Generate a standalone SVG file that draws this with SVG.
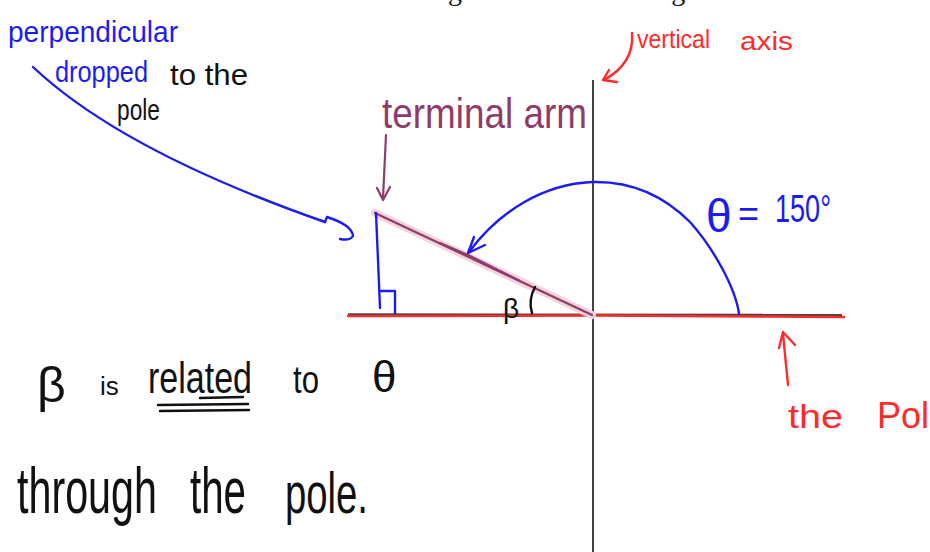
<svg xmlns="http://www.w3.org/2000/svg" width="930" height="552" viewBox="0 0 930 552">
<style>
.hand{font-family:"Liberation Sans","DejaVu Sans",sans-serif;}
.blue{fill:#1c1cf2;}
.red{fill:#ff2a2a;}
.purple{fill:#8e3d6a;}
.black{fill:#111;}
.sb{stroke:#1c1cf2;stroke-width:2.4;fill:none;stroke-linecap:round;stroke-linejoin:round;}
.sr{stroke:#ff2a2a;stroke-width:2.4;fill:none;stroke-linecap:round;stroke-linejoin:round;}
.sp{stroke:#8e3d6a;stroke-width:2.2;fill:none;stroke-linecap:round;stroke-linejoin:round;}
.sk{stroke:#111;stroke-width:2.4;fill:none;stroke-linecap:round;stroke-linejoin:round;}
</style>
<rect width="930" height="552" fill="#fff"/>
<g id="header">
<text x="204" y="-0.5" font-family="Liberation Serif,serif" font-size="28" fill="#111" textLength="258" lengthAdjust="spacingAndGlyphs">Consider the following</text>
<text x="637" y="-0.5" font-family="Liberation Serif,serif" font-size="28" fill="#111">diagram</text>
</g>
<g id="axes">
<line x1="593" y1="80" x2="593" y2="552" stroke="#444" stroke-width="2"/>
<line x1="348" y1="314.5" x2="842" y2="315" stroke="#444" stroke-width="2.4"/>
<path d="M347,316 L600,315.5 L760,316.5 L845,317" stroke="#ff2a2a" stroke-width="2.4" fill="none"/>
</g>
<g id="terminal-arm">
<line x1="375" y1="213" x2="592" y2="315" stroke="#f3d2dc" stroke-width="8" stroke-linecap="round"/>
<path class="sp" d="M375,213 L592,315"/>
<path class="sp" d="M440,243 L470,256 L520,281" stroke-width="1.4"/>
</g>
<g id="perpendicular">
<path class="sb" d="M376,213 L378,260 L380,308"/>
<path class="sb" d="M381,291 L395,291 L395,313"/>
</g>
<g id="beta-angle">
<text class="hand black" x="503" y="318" font-size="28">β</text>
<path class="sk" d="M535,287 Q528,300 532,313" stroke-width="3.2"/>
</g>
<g id="connectors">
<path class="sb" d="M33,67 Q122,151 325,222"/>
<path class="sb" d="M325,222 L327,217 Q352,225 353,236 Q350,241 340,239"/>
<path class="sp" d="M386,135 L383,198"/>
<path class="sp" d="M377,188 L383,200 L390,187"/>
<path class="sr" d="M632,33 C634,55 622,70 604,80"/>
<path class="sr" d="M609,70 L603,80 L617,82"/>
<path class="sb" d="M739,314 C736,290 715,250 690,222 C660,192 625,181 592,182 C545,184 500,210 469,252"/>
<path class="sb" d="M474,237 L468,253 L485,245"/>
<path class="sr" d="M788,385 L783,334"/>
<path class="sr" d="M779,348 L783,332 L795,345"/>
</g>
<g id="label-perpendicular">
<text class="hand blue" x="8" y="42" font-size="30" textLength="170" lengthAdjust="spacingAndGlyphs">perpendicular</text>
<text class="hand blue" x="55" y="82" font-size="30" textLength="93" lengthAdjust="spacingAndGlyphs">dropped</text>
<text class="hand black" x="170" y="85" font-size="30" textLength="78" lengthAdjust="spacingAndGlyphs">to the</text>
<text class="hand black" x="117" y="120" font-size="30" textLength="43" lengthAdjust="spacingAndGlyphs">pole</text>
</g>
<g id="label-terminal-arm">
<text class="hand purple" x="382" y="128" font-size="42" textLength="205" lengthAdjust="spacingAndGlyphs">terminal arm</text>
</g>
<g id="label-vertical-axis">
<text class="hand red" x="637" y="48" font-size="26" textLength="73" lengthAdjust="spacingAndGlyphs">vertical</text>
<text class="hand red" x="740" y="50" font-size="25" textLength="53" lengthAdjust="spacingAndGlyphs">axis</text>
</g>
<g id="label-theta">
<text class="hand blue" x="706" y="232" font-size="46" font-weight="300">θ</text>
<text class="hand blue" x="738" y="226" font-size="36">=</text>
<text class="hand blue" x="775" y="222" font-size="38" textLength="56" lengthAdjust="spacingAndGlyphs">150°</text>
</g>
<g id="label-pole">
<text class="hand red" x="788" y="428" font-size="34" textLength="55" lengthAdjust="spacingAndGlyphs">the</text>
<text class="hand red" x="877" y="428" font-size="36">Pole</text>
</g>
<g id="note">
<text class="hand black" x="37" y="402" font-size="50">β</text>
<text class="hand black" x="100" y="395" font-size="26">is</text>
<text class="hand black" x="148" y="393" font-size="44" textLength="104" lengthAdjust="spacingAndGlyphs">related</text>
<path class="sk" d="M158,405 L248,404 M160,411 L249,410 M200,398 L243,397" stroke-width="2"/>
<text class="hand black" x="293" y="393" font-size="38" textLength="26" lengthAdjust="spacingAndGlyphs">to</text>
<text class="hand black" x="372" y="392" font-size="44">θ</text>
<text class="hand black" transform="translate(17,513) scale(0.645,1)" x="0" y="0" font-size="64">through</text>
<text class="hand black" transform="translate(190,513) scale(0.63,1)" x="0" y="0" font-size="64">the</text>
<text class="hand black" transform="translate(285,513) scale(0.66,1)" x="0" y="0" font-size="58">pole.</text>
</g>
</svg>
